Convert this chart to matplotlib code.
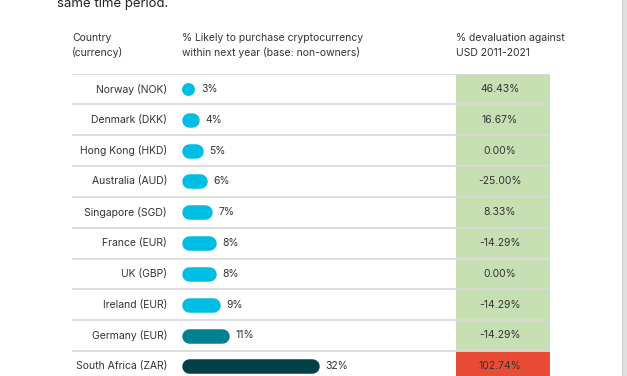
import matplotlib.pyplot as plt
from matplotlib.patches import Rectangle

countries = [
    "Norway (NOK)", "Denmark (DKK)", "Hong Kong (HKD)", "Australia (AUD)",
    "Singapore (SGD)", "France (EUR)", "UK (GBP)", "Ireland (EUR)",
    "Germany (EUR)", "South Africa (ZAR)",
]
likely_pct = [3, 4, 5, 6, 7, 8, 8, 9, 11, 32]
devaluation = [46.43, 16.67, 0.00, -25.00, 8.33, -14.29, 0.00, -14.29, -14.29, 102.74]
bar_colors = ["#00bee3"] * 8 + ["#00818f", "#023f47"]
cell_colors = ["#c6e0b4"] * 9 + ["#e94c36"]

headers = [
    "Country\n(currency)",
    "% Likely to purchase cryptocurrency\nwithin next year (base: non-owners)",
    "% devaluation against\nUSD 2011-2021",
]

plt.rcParams["font.family"] = ["Inter", "DejaVu Sans"]

W, H = 627, 376
fig = plt.figure(figsize=(W / 100, H / 100), dpi=100)

def fx(px):
    return px / W

def fy(py):
    return 1 - py / H

n = len(countries)
row_top = 73.7
row_h = 30.8
row_bottom = row_top + row_h * n
text_col = "#333333"

# table axes: x in pixels, y in rows
ax = fig.add_axes([0, fy(row_bottom), 1, (row_bottom - row_top) / H])
ax.set_xlim(0, W)
ax.set_ylim(n - 0.5, -0.5)
ax.axis("off")

for i, (c, d, cc) in enumerate(zip(countries, devaluation, cell_colors)):
    ax.add_patch(Rectangle((456, i - 0.5), 94, 1, color=cc, lw=0, zorder=1))
    ax.text(167, i, c, ha="right", va="center", fontsize=7.5, color=text_col)
    ax.text(500, i, f"{d:.2f}%", ha="center", va="center", fontsize=7.5,
            color=text_col, zorder=3)
ax.hlines([i - 0.5 for i in range(n)], 72, 550, color="#d9d9d9", lw=1.3, zorder=2)

# bar axes: x in percent
bar_max = 40
bar_x0 = 181.7
px_per_pct = 4.3
axb = fig.add_axes([fx(bar_x0), fy(row_bottom), fx(px_per_pct * bar_max),
                    (row_bottom - row_top) / H])
axb.set_xlim(0, bar_max)
axb.set_ylim(n - 0.5, -0.5)
axb.axis("off")

# bars as thick lines with round caps; the caps add half the height at each end
bar_px = 14.5
cap = bar_px / 2 / px_per_pct
for i, (v, col) in enumerate(zip(likely_pct, bar_colors)):
    if v * px_per_pct <= bar_px + 0.5:
        # too short for a pill: just a dot
        axb.plot([v / 2], [i], marker="o", ms=v * px_per_pct * 0.72,
                 color=col, lw=0, mew=0)
    else:
        axb.plot([cap, v - cap], [i, i], color=col, lw=bar_px * 0.72,
                 solid_capstyle="round")
    axb.annotate(f"{v}%", (v, i), xytext=(4.5, 0),
                 textcoords="offset points", ha="left", va="center",
                 fontsize=7.5, color=text_col)

# headers
for x, t in zip([72, 182.5, 456], headers):
    fig.text(fx(x), fy(45.5), t, ha="left", va="center", fontsize=7.5,
             color=text_col, linespacing=1.55)

fig.text(fx(57), fy(7), "same time period.", ha="left", va="baseline",
         fontsize=9.5, color="#222222")

# page edge on the right
fig.patches.append(Rectangle((fx(621.5), 0), fx(6), 1, transform=fig.transFigure,
                             color="#e0e0e0", lw=0))
fig.patches.append(Rectangle((fx(621.5), 0), fx(1.2), 1, transform=fig.transFigure,
                             color="#cccccc", lw=0))

fig.savefig("out.png", dpi=100)
